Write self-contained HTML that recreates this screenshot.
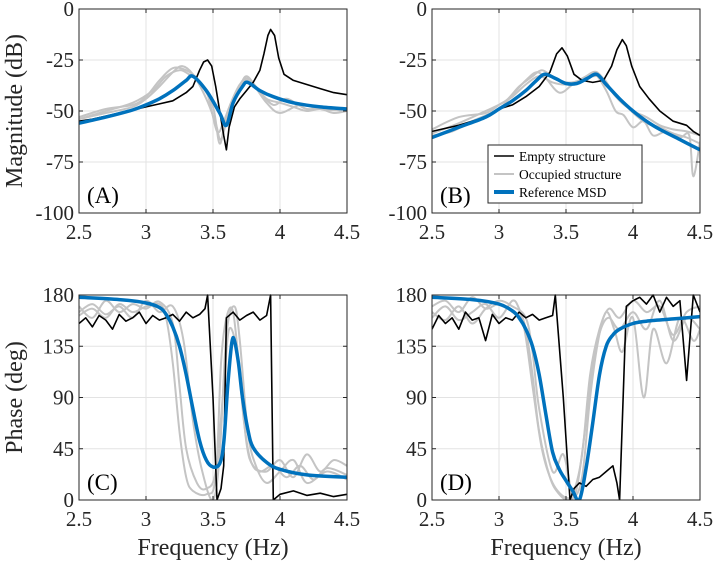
<!DOCTYPE html>
<html><head><meta charset="utf-8">
<style>
html,body{margin:0;padding:0;background:#fff;}
svg{display:block;font-family:"Liberation Serif",serif;}
</style></head>
<body>
<svg id="fig" width="713" height="562" viewBox="0 0 713 562"></svg>
<script>
// ---------- DATA ----------
const xTicks = [2.5, 3, 3.5, 4, 4.5];
const xTickLabels = ["2.5", "3", "3.5", "4", "4.5"];
const magTicks = [0, -25, -50, -75, -100];
const magTickLabels = ["0", "-25", "-50", "-75", "-100"];
const phTicks = [0, 45, 90, 135, 180];
const phTickLabels = ["0", "45", "90", "135", "180"];

// Panel A (magnitude)
const aEmptyF = [2.5,2.6,2.7,2.8,2.9,3.0,3.1,3.2,3.3,3.35,3.4,3.43,3.46,3.49,3.52,3.55,3.58,3.6,3.62,3.66,3.7,3.75,3.8,3.85,3.88,3.91,3.93,3.96,3.99,4.03,4.1,4.2,4.3,4.4,4.5];
const aEmptyV = [-55,-54,-52.5,-51,-49.5,-48,-46.5,-45,-41,-38,-30,-26,-25,-28,-38,-50,-62,-69,-58,-48,-44,-40,-36,-30,-22,-13,-10,-13,-24,-32,-35,-37,-39,-41,-42];
const aRefF = [2.5,2.7,2.9,3.0,3.1,3.2,3.3,3.35,3.45,3.55,3.6,3.65,3.72,3.76,3.85,3.95,4.1,4.3,4.5];
const aRefV = [-56,-53,-49.5,-47,-44,-40,-35,-33,-40,-51,-57,-46,-38,-36,-40,-43,-46,-48,-49];
const aOcc1F = [2.5,2.7,2.9,3.0,3.1,3.2,3.27,3.35,3.45,3.52,3.56,3.62,3.7,3.75,3.82,3.9,4.0,4.1,4.2,4.3,4.4,4.5];
const aOcc1V = [-54,-51,-48,-44,-38,-31,-28,-32,-44,-56,-64,-50,-38,-33,-38,-44,-46,-48,-50,-49,-51,-50];
const aOcc2F = [2.5,2.7,2.9,3.0,3.1,3.2,3.3,3.38,3.46,3.53,3.58,3.64,3.7,3.76,3.84,3.95,4.05,4.2,4.35,4.5];
const aOcc2V = [-53,-49,-47,-43,-35,-29,-30,-34,-42,-60,-55,-45,-37,-34,-40,-47,-44,-49,-48,-50];
const aOcc3F = [2.5,2.7,2.9,3.05,3.15,3.25,3.32,3.4,3.5,3.55,3.6,3.68,3.74,3.8,3.9,4.0,4.15,4.3,4.5];
const aOcc3V = [-54,-50,-46,-40,-33,-30,-32,-36,-48,-66,-52,-40,-35,-37,-46,-51,-47,-49,-50];

// Panel B (magnitude)
const bEmptyF = [2.5,2.7,2.9,3.0,3.1,3.2,3.3,3.38,3.43,3.47,3.51,3.56,3.62,3.7,3.78,3.84,3.88,3.92,3.95,3.99,4.05,4.12,4.2,4.3,4.4,4.45,4.5];
const bEmptyV = [-60,-57,-53,-49,-47,-43,-38,-31,-22,-19,-23,-32,-35,-36,-35,-28,-20,-15,-18,-28,-38,-44,-50,-55,-57,-60,-62];
const bRefF = [2.5,2.7,2.9,3.0,3.1,3.2,3.28,3.34,3.42,3.5,3.58,3.66,3.73,3.8,3.9,4.0,4.1,4.2,4.35,4.5];
const bRefV = [-63,-58,-53,-49,-45,-40,-35,-32,-34,-36.5,-36.5,-34,-32,-37,-44,-50,-55,-59,-64,-69];
const bOcc1F = [2.5,2.7,2.9,3.05,3.15,3.25,3.32,3.4,3.5,3.6,3.7,3.75,3.82,3.9,4.0,4.1,4.2,4.3,4.4,4.5];
const bOcc1V = [-61,-56,-50,-45,-38,-33,-30,-33,-36,-35,-31,-32,-38,-45,-50,-53,-57,-59,-60,-62];
const bOcc2F = [2.5,2.65,2.8,3.0,3.1,3.2,3.28,3.35,3.45,3.55,3.65,3.72,3.8,3.87,3.93,4.0,4.08,4.15,4.25,4.35,4.42,4.45,4.5];
const bOcc2V = [-62,-60,-55,-49,-42,-35,-31,-34,-41,-37,-33,-32,-40,-50,-52,-58,-55,-62,-60,-63,-62,-82,-65];
const bOcc3F = [2.5,2.7,2.9,3.0,3.1,3.2,3.3,3.4,3.5,3.6,3.7,3.78,3.86,3.94,4.02,4.1,4.2,4.3,4.4,4.5];
const bOcc3V = [-59,-53,-51,-47,-43,-37,-33,-36,-37,-35,-33,-34,-42,-47,-52,-56,-58,-61,-63,-66];

// Panel C (phase)
const cEmptyF = [2.5,2.55,2.6,2.65,2.7,2.75,2.8,2.85,2.9,2.95,3.0,3.05,3.1,3.15,3.2,3.25,3.3,3.35,3.4,3.44,3.46,3.5,3.53,3.56,3.58,3.6,3.65,3.7,3.75,3.8,3.85,3.9,3.93,3.95,4.0,4.1,4.2,4.3,4.4,4.5];
const cEmptyV = [155,160,152,162,158,150,163,157,160,165,155,162,158,160,163,157,165,160,163,168,180,90,0,10,30,160,165,158,162,165,158,162,180,0,5,8,4,6,3,5];
const cRefF = [2.5,2.8,3.0,3.1,3.15,3.2,3.25,3.3,3.35,3.4,3.45,3.5,3.55,3.58,3.61,3.64,3.66,3.69,3.72,3.76,3.8,3.9,4.0,4.2,4.5];
const cRefV = [178,176,173,169,163,152,135,110,80,52,35,29,32,50,100,138,140,120,90,62,46,33,27,22,20];
const cOcc1F = [2.5,2.6,2.7,2.8,2.9,3.0,3.1,3.15,3.2,3.25,3.3,3.35,3.45,3.52,3.56,3.6,3.65,3.7,3.75,3.8,3.9,4.0,4.1,4.2,4.3,4.4,4.5];
const cOcc1V = [162,168,160,172,165,170,172,160,120,60,20,8,5,20,120,160,165,110,50,30,25,35,20,40,25,35,30];
const cOcc2F = [2.5,2.6,2.7,2.8,2.9,3.0,3.1,3.2,3.25,3.3,3.38,3.45,3.52,3.58,3.62,3.68,3.73,3.78,3.85,3.95,4.05,4.15,4.25,4.35,4.5];
const cOcc2V = [170,160,175,165,172,168,174,155,100,45,15,10,25,100,150,130,70,35,25,30,20,30,18,28,22];
const cOcc3F = [2.5,2.6,2.7,2.8,2.9,3.0,3.1,3.2,3.28,3.35,3.42,3.5,3.55,3.6,3.66,3.7,3.76,3.82,3.9,4.0,4.1,4.2,4.35,4.5];
const cOcc3V = [165,172,163,170,160,175,165,170,140,70,25,0,40,145,170,140,60,30,15,25,35,15,25,18];

// Panel D (phase)
const dEmptyF = [2.5,2.55,2.6,2.65,2.7,2.75,2.8,2.85,2.9,2.95,3.0,3.05,3.1,3.15,3.2,3.25,3.3,3.35,3.4,3.42,3.48,3.53,3.56,3.6,3.65,3.7,3.75,3.8,3.85,3.88,3.9,3.95,4.0,4.05,4.1,4.15,4.2,4.25,4.3,4.35,4.4,4.45,4.5];
const dEmptyV = [150,162,155,160,150,165,158,160,140,163,155,160,158,165,160,163,158,160,162,180,90,0,10,15,12,18,20,25,30,15,0,170,175,178,172,180,165,178,170,175,105,180,165];
const dRefF = [2.5,2.8,3.0,3.1,3.15,3.2,3.25,3.3,3.35,3.4,3.45,3.5,3.55,3.6,3.65,3.7,3.75,3.8,3.85,3.9,4.0,4.1,4.3,4.5];
const dRefV = [178,176,172,166,160,150,135,110,75,42,27,17,8,0,28,68,110,135,145,150,155,157,159,161];
const dOcc1F = [2.5,2.6,2.7,2.8,2.9,3.0,3.1,3.15,3.2,3.25,3.3,3.38,3.45,3.52,3.58,3.64,3.7,3.76,3.82,3.9,4.0,4.1,4.2,4.3,4.4,4.5];
const dOcc1V = [160,170,158,165,172,160,175,168,150,110,60,20,5,0,10,60,120,150,160,150,165,150,175,140,160,150];
const dOcc2F = [2.5,2.6,2.7,2.8,2.9,3.0,3.1,3.2,3.25,3.3,3.4,3.48,3.55,3.62,3.68,3.74,3.8,3.86,3.92,4.0,4.08,4.15,4.25,4.35,4.45,4.5];
const dOcc2V = [165,158,170,155,168,175,170,160,130,80,25,40,5,20,90,140,165,150,130,160,90,150,120,160,140,150];
const dOcc3F = [2.5,2.6,2.7,2.8,2.9,3.0,3.1,3.18,3.25,3.32,3.4,3.5,3.56,3.62,3.68,3.75,3.82,3.9,4.0,4.1,4.2,4.3,4.4,4.5];
const dOcc3V = [170,175,165,178,168,172,165,155,100,45,15,2,8,40,110,150,168,160,175,165,170,145,165,170];

// ---------- DRAWING ----------
const NS = "http://www.w3.org/2000/svg";
const svg = document.getElementById("fig");
function mk(tag, attrs, parent){
  const e = document.createElementNS(NS, tag);
  for (const k in attrs) e.setAttribute(k, attrs[k]);
  (parent||svg).appendChild(e);
  return e;
}
function smoothPath(pts){
  let d = "M" + pts[0][0].toFixed(1) + "," + pts[0][1].toFixed(1);
  for (let i = 0; i < pts.length - 1; i++){
    const p0 = pts[Math.max(0,i-1)], p1 = pts[i], p2 = pts[i+1], p3 = pts[Math.min(pts.length-1,i+2)];
    const c1x = p1[0] + (p2[0]-p0[0])/6, c1y = p1[1] + (p2[1]-p0[1])/6;
    const c2x = p2[0] - (p3[0]-p1[0])/6, c2y = p2[1] - (p3[1]-p1[1])/6;
    d += "C" + c1x.toFixed(1) + "," + c1y.toFixed(1) + " " + c2x.toFixed(1) + "," + c2y.toFixed(1) + " " + p2[0].toFixed(1) + "," + p2[1].toFixed(1);
  }
  return d;
}
function panel(id, x0, y0, x1, y1, yMin, yMax, yTicks, yLabels, label, series, showXTitle, yTitle){
  const g = mk("g", {});
  
  
  const sx = f => x0 + (f - 2.5) / 2 * (x1 - x0);
  const sy = v => y1 - (v - yMin) / (yMax - yMin) * (y1 - y0);
  mk("rect", {x:x0, y:y0, width:x1-x0, height:y1-y0, fill:"#fff"}, g);
  xTicks.forEach((t) => mk("line", {x1:sx(t), x2:sx(t), y1:y0, y2:y1, stroke:"#e3e3e3", "stroke-width":1}, g));
  yTicks.forEach((t) => mk("line", {x1:x0, x2:x1, y1:sy(t), y2:sy(t), stroke:"#e3e3e3", "stroke-width":1}, g));
  const clipId = "clip" + id;
  const cp = mk("clipPath", {id:clipId}, g);
  mk("rect", {x:x0, y:y0-2, width:x1-x0, height:y1-y0+2}, cp);
  const lg = mk("g", {"clip-path":"url(#"+clipId+")"}, g);
  series.forEach(s => {
    const pts = s.f.map((f,i) => [sx(f), sy(s.v[i])]);
    const d = s.smooth ? smoothPath(pts) : pts.map((p,i) => (i ? "L" : "M") + p[0].toFixed(1) + "," + p[1].toFixed(1)).join("");
    const p = mk("path", {d:d, fill:"none", stroke:s.c, "stroke-width":s.w, "stroke-linejoin":"round"}, lg);
    
    
  });
  mk("rect", {x:x0, y:y0, width:x1-x0, height:y1-y0, fill:"none", stroke:"#262626", "stroke-width":1}, g);
  xTicks.forEach((t,i) => {
    mk("line", {x1:sx(t), x2:sx(t), y1:y1, y2:y1-4, stroke:"#262626"}, g);
    mk("line", {x1:sx(t), x2:sx(t), y1:y0, y2:y0+4, stroke:"#262626"}, g);
    const tx = mk("text", {x:sx(t), y:y1+26, "text-anchor":"middle", "font-size":21, fill:"#262626"}, g);
    tx.textContent = xTickLabels[i];
    
    
  });
  yTicks.forEach((t,i) => {
    mk("line", {x1:x0, x2:x0+4, y1:sy(t), y2:sy(t), stroke:"#262626"}, g);
    mk("line", {x1:x1, x2:x1-4, y1:sy(t), y2:sy(t), stroke:"#262626"}, g);
    const tx = mk("text", {x:x0-5, y:sy(t)+7, "text-anchor":"end", "font-size":21, fill:"#262626"}, g);
    tx.textContent = yLabels[i];
    
    
  });
  const lb = mk("text", {x:x0+8, y:y1-10, "font-size":23, fill:"#000"}, g);
  lb.textContent = label;
  
  
  if (showXTitle){
    const xt = mk("text", {x:(x0+x1)/2, y:y1+55, "text-anchor":"middle", "font-size":24, fill:"#262626"}, g);
    xt.textContent = "Frequency (Hz)";
    
    
  }
  if (yTitle){
    const cy = (y0+y1)/2;
    const yt = mk("text", {x:22, y:cy, "text-anchor":"middle", "font-size":24, fill:"#262626", transform:"rotate(-90 22 "+cy+")"}, g);
    yt.textContent = yTitle;
    
    
  }
}
const GREY = "#c4c4c4", BLUE = "#0072bd";
function S(fa, va, prefix){
  return [
    {f:fa[2], v:va[2], c:GREY, w:2, n:prefix+"-occupied-1", smooth:true},
    {f:fa[3], v:va[3], c:GREY, w:2, n:prefix+"-occupied-2", smooth:true},
    {f:fa[4], v:va[4], c:GREY, w:2, n:prefix+"-occupied-3", smooth:true},
    {f:fa[0], v:va[0], c:"#000", w:1.6, n:prefix+"-empty-structure", smooth:false},
    {f:fa[1], v:va[1], c:BLUE, w:3.5, n:prefix+"-reference-msd", smooth:true}
  ];
}
panel("a", 79, 9, 347, 213, -100, 0, magTicks, magTickLabels, "(A)",
  S([aEmptyF,aRefF,aOcc1F,aOcc2F,aOcc3F],[aEmptyV,aRefV,aOcc1V,aOcc2V,aOcc3V],"a"), false, "Magnitude (dB)");
panel("b", 432, 9, 700, 213, -100, 0, magTicks, magTickLabels, "(B)",
  S([bEmptyF,bRefF,bOcc1F,bOcc2F,bOcc3F],[bEmptyV,bRefV,bOcc1V,bOcc2V,bOcc3V],"b"), false, null);
panel("c", 79, 295, 347, 500, 0, 180, phTicks, phTickLabels, "(C)",
  S([cEmptyF,cRefF,cOcc1F,cOcc2F,cOcc3F],[cEmptyV,cRefV,cOcc1V,cOcc2V,cOcc3V],"c"), true, "Phase (deg)");
panel("d", 432, 295, 700, 500, 0, 180, phTicks, phTickLabels, "(D)",
  S([dEmptyF,dRefF,dOcc1F,dOcc2F,dOcc3F],[dEmptyV,dRefV,dOcc1V,dOcc2V,dOcc3V],"d"), true, null);

const lg = mk("g", {});


mk("rect", {x:488, y:145, width:154, height:58, fill:"#fff", stroke:"#262626", "stroke-width":1}, lg);
const entries = [["Empty structure","#000",1.6],["Occupied structure",GREY,2],["Reference MSD",BLUE,4]];
entries.forEach((e,i) => {
  const y = 156 + i*18;
  const ln = mk("line", {x1:494, x2:514, y1:y, y2:y, stroke:e[1], "stroke-width":e[2]}, lg);
  
  
  const t = mk("text", {x:519, y:y+5, "font-size":13.5, fill:"#000"}, lg);
  t.textContent = e[0];
  
  
});
</script>
</body></html>
